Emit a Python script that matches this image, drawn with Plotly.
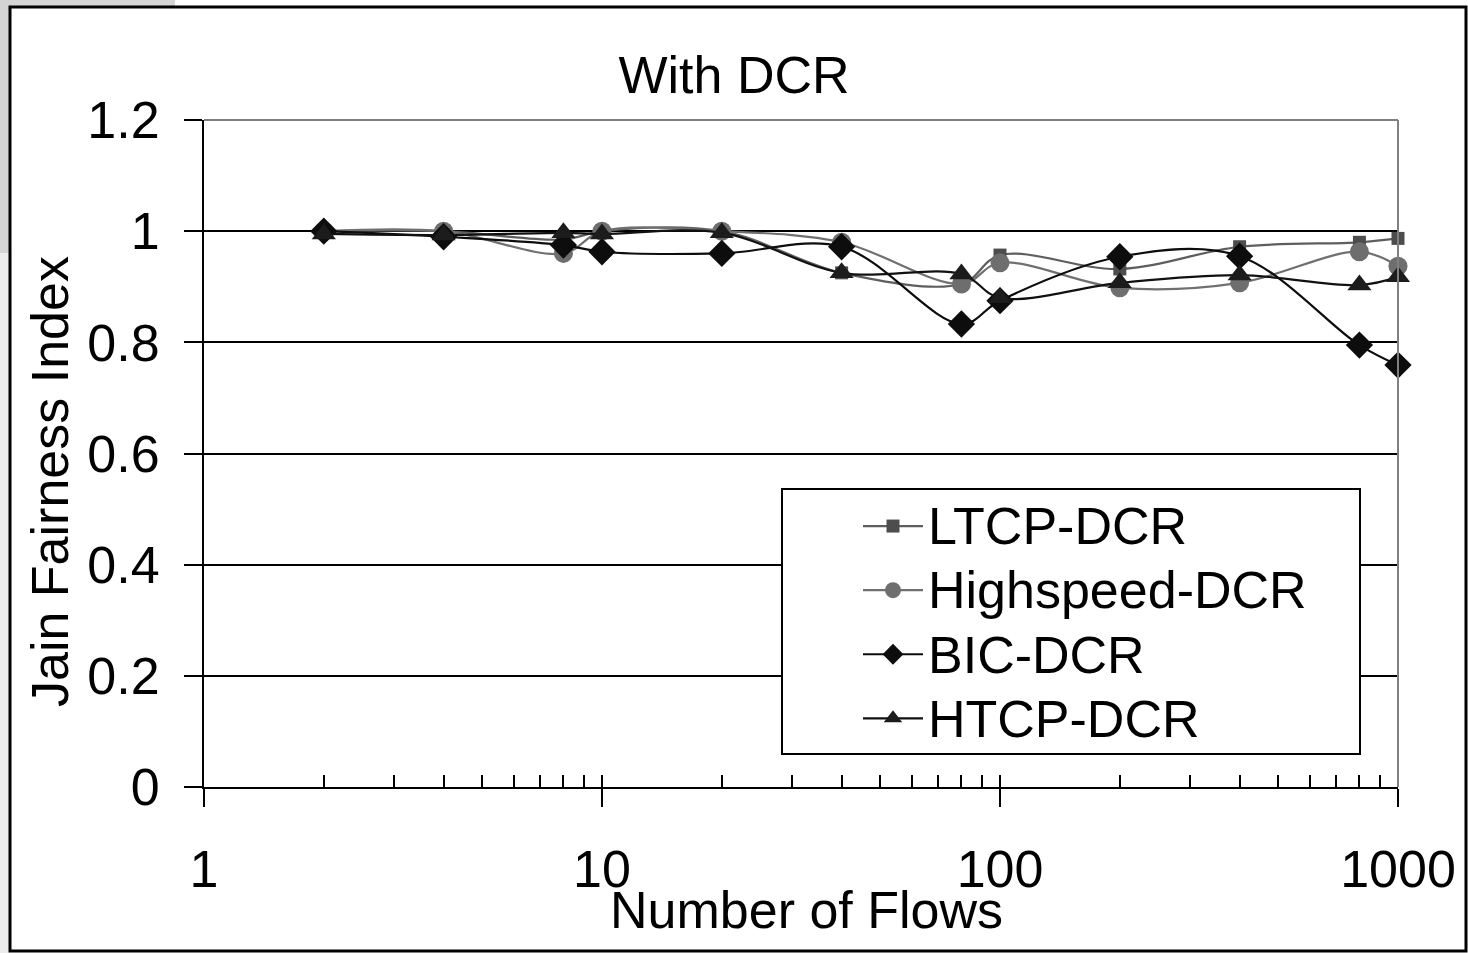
import plotly.graph_objects as go

flows = [2, 4, 8, 10, 20, 40, 80, 100, 200, 400, 800, 1000]
ltcp = [1.0, 1.0, 0.985, 1.0, 1.0, 0.925, 0.905, 0.957, 0.932, 0.972, 0.98, 0.987]
highspeed = [1.0, 1.0, 0.96, 1.0, 1.0, 0.98, 0.905, 0.943, 0.898, 0.907, 0.963, 0.937]
bic = [1.0, 0.99, 0.975, 0.963, 0.96, 0.972, 0.833, 0.875, 0.954, 0.955, 0.795, 0.759]
htcp = [0.995, 0.993, 0.997, 0.995, 0.997, 0.925, 0.923, 0.88, 0.907, 0.921, 0.903, 0.918]

series_names = ["LTCP-DCR", "Highspeed-DCR", "BIC-DCR", "HTCP-DCR"]
x_tick_vals = [1, 10, 100, 1000]
x_tick_text = ["1", "10", "100", "1000"]
y_tick_vals = [0, 0.2, 0.4, 0.6, 0.8, 1.0, 1.2]
y_tick_text = ["0", "0.2", "0.4", "0.6", "0.8", "1", "1.2"]

FONT = "Liberation Sans, Arial, sans-serif"
W, H = 1468, 953
L, R, T, B = 204, 70, 120, 166

styles = [
    dict(line=dict(color="#5e5e5e", width=2.2), marker=dict(symbol="square", size=13, color="#4d4d4d")),
    dict(line=dict(color="#707070", width=2.2), marker=dict(symbol="circle", size=19, color="#6e6e6e")),
    dict(line=dict(color="#0d0d0d", width=2.2), marker=dict(symbol="diamond", size=21, color="#0d0d0d")),
    dict(line=dict(color="#111111", width=2.2), marker=dict(symbol="triangle-up", size=21, color="#1c1c1c")),
]

fig = go.Figure()
for name, vals, st in zip(series_names, [ltcp, highspeed, bic, htcp], styles):
    fig.add_trace(go.Scatter(
        x=flows, y=vals, name='<span style="font-size:52px">' + name + '</span>',
        mode="lines+markers", cliponaxis=False,
        line=dict(shape="spline", smoothing=1.0, **st["line"]),
        marker=st["marker"],
    ))

# invisible trace on overlay axis to provide inside major ticks
fig.add_trace(go.Scatter(x=[1, 1000], y=[0, 0], xaxis="x2", mode="none",
                         showlegend=False, hoverinfo="skip"))

fig.update_layout(
    width=W, height=H,
    margin=dict(l=L, r=R, t=T, b=B, pad=0),
    paper_bgcolor="white", plot_bgcolor="white",
    font=dict(family=FONT, size=52, color="black"),
    title=dict(text="With DCR", x=0.5, xref="container", xanchor="center",
               y=1 - 75 / H, yref="container", yanchor="middle",
               font=dict(family=FONT, size=52, color="black")),
    xaxis=dict(
        type="log", range=[0, 3],
        tickvals=x_tick_vals, ticktext=x_tick_text,
        ticks="outside", ticklen=18, tickwidth=2, tickcolor="black",
        showline=True, linecolor="black", linewidth=2,
        showgrid=False, zeroline=False,
        ticklabelstandoff=18,
        tickfont=dict(family=FONT, size=52, color="black"),
        minor=dict(ticks="inside", ticklen=12, tickwidth=2, tickcolor="black",
                   showgrid=False, tickvals=[2, 3, 4, 5, 6, 7, 8, 9,
                                             20, 30, 40, 50, 60, 70, 80, 90,
                                             200, 300, 400, 500, 600, 700, 800, 900]),
    ),
    xaxis2=dict(
        type="log", range=[0, 3], overlaying="x", side="bottom", anchor="y",
        tickvals=x_tick_vals, showticklabels=False,
        ticks="inside", ticklen=12, tickwidth=2, tickcolor="black",
        showline=False, showgrid=False, zeroline=False,
    ),
    yaxis=dict(
        range=[0, 1.2], tickvals=y_tick_vals, ticktext=y_tick_text,
        ticks="outside", ticklen=18, tickwidth=2, tickcolor="black",
        showline=True, linecolor="black", linewidth=2,
        showgrid=True, gridcolor="black", gridwidth=2, zeroline=False,
        ticklabelstandoff=14,
        tickfont=dict(family=FONT, size=52, color="black"),
    ),
    legend=dict(
        x=(858 - L) / (W - L - R), y=(787 - 489) / (H - T - B),
        xanchor="left", yanchor="top",
        bgcolor="rgba(0,0,0,0)", borderwidth=0,
        font=dict(family=FONT, size=47, color="black"),
        itemwidth=60, tracegroupgap=0,
    ),
    showlegend=True,
)

pw = W - L - R
ph = H - T - B
def px(xp):
    return (xp - L) / pw
def py(yp):
    return (H - B - yp) / ph

shapes = [
    dict(type="rect", xref="paper", yref="paper", x0=px(0), x1=px(175), y0=py(6), y1=py(0),
         fillcolor="#d4d4d4", line=dict(width=0), layer="below"),
    dict(type="rect", xref="paper", yref="paper", x0=px(0), x1=px(10), y0=py(253), y1=py(0),
         fillcolor="#d4d4d4", line=dict(width=0), layer="below"),
    dict(type="rect", xref="paper", yref="paper", x0=px(0), x1=px(10), y0=py(953), y1=py(253),
         fillcolor="#ececec", line=dict(width=0), layer="below"),
    dict(type="rect", xref="paper", yref="paper", x0=px(10), x1=px(1466), y0=py(951), y1=py(7),
         line=dict(color="black", width=3), fillcolor="rgba(0,0,0,0)", layer="below"),
    dict(type="line", xref="paper", yref="paper", x0=0, x1=1, y0=1, y1=1,
         line=dict(color="#808080", width=2), layer="above"),
    dict(type="line", xref="paper", yref="paper", x0=1, x1=1, y0=0, y1=1,
         line=dict(color="#808080", width=2), layer="above"),
    dict(type="rect", xref="paper", yref="paper", x0=px(782), x1=px(1360), y0=py(754), y1=py(489),
         fillcolor="white", line=dict(color="black", width=2), layer="above"),
]
fig.update_layout(shapes=shapes)

fig.add_annotation(text="Number of Flows", xref="paper", yref="paper",
                   x=px(806), y=py(910), xanchor="center", yanchor="middle",
                   showarrow=False, font=dict(family=FONT, size=52, color="black"))
fig.add_annotation(text="Jain Fairness Index", xref="paper", yref="paper",
                   x=px(50), y=py(482), xanchor="center", yanchor="middle", textangle=-90,
                   showarrow=False, font=dict(family=FONT, size=52, color="black"))

fig.write_html("out.html")
